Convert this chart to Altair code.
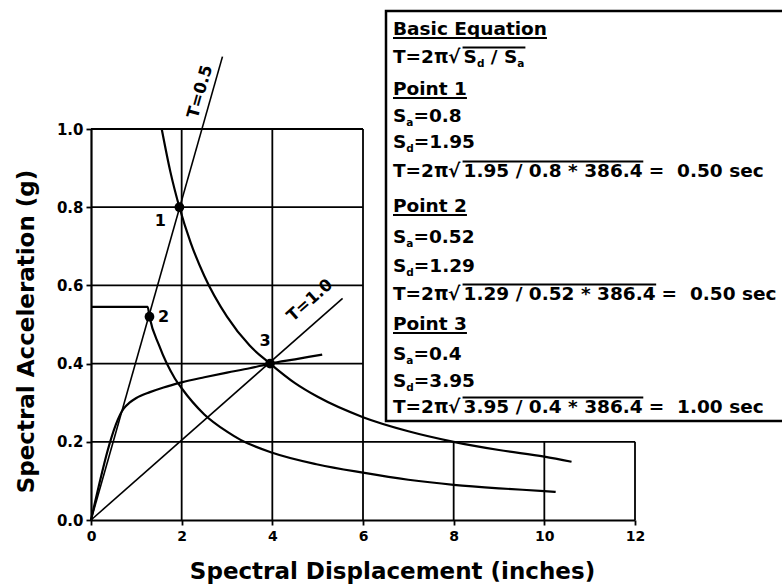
import math
import altair as alt
import pandas as pd

# ---------------------------------------------------------------- values
SD_TICKS = [0, 2, 4, 6, 8, 10, 12]
SA_TICKS = [0.0, 0.2, 0.4, 0.6, 0.8, 1.0]

# horizontal grid lines and how far right each one runs
GRID_SA = [0.2, 0.4, 0.6, 0.8, 1.0]
GRID_SA_END = [12, 6, 6, 6, 6]
# vertical grid lines and how high each one runs
GRID_SD = [2, 4, 6, 8, 10, 12]
GRID_SD_TOP = [1.0, 1.0, 1.0, 0.2, 0.2, 0.2]

# capacity (pushover) curve
CAP_SD = [0.0, 0.72, 0.85, 1.0, 1.3, 1.6, 2.0, 2.5, 3.0, 3.5, 3.95, 4.5, 5.1]
CAP_SA = [0.0, 0.285, 0.300, 0.312, 0.327, 0.339, 0.352, 0.365, 0.377, 0.388, 0.400, 0.411, 0.423]

# elastic demand spectrum
DEM_SD = [1.56, 1.75, 1.95, 2.2, 2.5, 3.0, 3.5, 3.95, 4.5, 5.0, 6.0, 7.0, 8.0, 9.0, 10.0, 10.6]
DEM_SA = [1.0, 0.891, 0.80, 0.709, 0.624, 0.52, 0.446, 0.40, 0.35, 0.315, 0.263, 0.227, 0.200, 0.179, 0.162, 0.149]

# reduced demand spectrum
RED_SD = [0.0, 1.25, 1.29, 1.5, 1.85, 2.0, 2.5, 3.0, 3.3, 4.0, 5.0, 6.0, 7.0, 8.0, 9.0, 10.0, 10.25]
RED_SA = [0.545, 0.545, 0.52, 0.447, 0.362, 0.337, 0.27, 0.226, 0.205, 0.172, 0.142, 0.121, 0.103, 0.090, 0.081, 0.074, 0.072]

# constant-period radial lines
PERIODS = [0.5, 1.0]
PERIOD_SD_END = [2.9, 5.55]
PERIOD_LABEL_SD = [2.66, 5.12]

# performance points
POINT_NAMES = ["1", "2", "3"]
POINT_SA = [0.8, 0.52, 0.4]
POINT_SD = [1.95, 1.29, 3.95]
GRAVITY = 386.4  # in/s^2

# ---------------------------------------------------------------- layout
W, H = 544, 391          # plot area in px
LEFT, TOP = 91, 129      # plot origin on the page
SD_MAX, SA_MAX = 12, 1.0
PX_SD = W / SD_MAX
PX_SA = H / SA_MAX
FONT = "DejaVu Sans"
NB = "\u00a0"            # non-breaking space, kept as-is inside SVG text


def sd_of(px):
    return (px - LEFT) / PX_SD


def sa_of(py):
    return (TOP + H - py) / PX_SA


def period_slope(t):
    # Sa/Sd ratio of a constant-period line: (2*pi/T)^2 / g
    return (2 * math.pi / t) ** 2 / GRAVITY


xs = alt.Scale(domain=[0, SD_MAX], nice=False, zero=False)
ys = alt.Scale(domain=[0, SA_MAX], nice=False, zero=False)

# ---------------------------------------------------------------- grid
hgrid = pd.DataFrame({"x": [0] * len(GRID_SA), "x2": GRID_SA_END, "y": GRID_SA})
vgrid = pd.DataFrame({"x": GRID_SD, "y": [0] * len(GRID_SD), "y2": GRID_SD_TOP})

base_axes = alt.Chart(pd.DataFrame({"x": [0], "y": [0]})).mark_point(opacity=0).encode(
    x=alt.X("x:Q", scale=xs, axis=alt.Axis(
        values=SD_TICKS, format="d", grid=False, labelFlush=False,
        domainColor="black", domainWidth=2.2, tickColor="black", tickWidth=1.8, tickSize=5,
        labelFont=FONT, labelFontWeight="bold", labelFontSize=14, labelColor="black",
        labelPadding=4,
        title="Spectral Displacement (inches)", titleFont=FONT, titleFontWeight="bold",
        titleFontSize=23, titleColor="black", titleX=301, titleY=58,
        titleAlign="center", titleBaseline="alphabetic")),
    y=alt.Y("y:Q", scale=ys, axis=alt.Axis(
        values=SA_TICKS, format=".1f", grid=False,
        domainColor="black", domainWidth=2.2, tickColor="black", tickWidth=1.8, tickSize=5,
        labelFont=FONT, labelFontWeight="bold", labelFontSize=15, labelColor="black",
        labelPadding=3,
        title="Spectral Acceleration (g)", titleFont=FONT, titleFontWeight="bold",
        titleFontSize=23, titleColor="black", titleX=-57.5, titleY=202, titleAngle=270,
        titleAlign="center", titleBaseline="alphabetic")),
)

hgrid_layer = alt.Chart(hgrid).mark_rule(color="black", strokeWidth=1.8).encode(
    x=alt.X("x:Q", scale=xs), x2="x2:Q", y=alt.Y("y:Q", scale=ys))
vgrid_layer = alt.Chart(vgrid).mark_rule(color="black", strokeWidth=1.8).encode(
    x=alt.X("x:Q", scale=xs), y=alt.Y("y:Q", scale=ys), y2="y2:Q")

# ---------------------------------------------------------------- period lines
prow = []
for t, end in zip(PERIODS, PERIOD_SD_END):
    prow.append({"T": t, "sd": 0.0, "sa": 0.0})
    prow.append({"T": t, "sd": end, "sa": period_slope(t) * end})
period_lines = alt.Chart(pd.DataFrame(prow)).mark_line(color="black", strokeWidth=1.6).encode(
    x=alt.X("sd:Q", scale=xs), y=alt.Y("sa:Q", scale=ys), detail="T:N")

period_labels = []
LABEL_GAP = [12, 20]
for t, lsd, gap in zip(PERIODS, PERIOD_LABEL_SD, LABEL_GAP):
    slope = period_slope(t)
    ang = 360 - math.degrees(math.atan(slope * PX_SA / PX_SD))
    df = pd.DataFrame({"sd": [lsd], "sa": [slope * lsd], "txt": [f"T={t:.1f}"]})
    period_labels.append(
        alt.Chart(df).mark_text(font=FONT, fontWeight="bold", fontSize=16.5, color="black",
                                align="center", baseline="middle", angle=ang, dy=-gap)
        .encode(x=alt.X("sd:Q", scale=xs), y=alt.Y("sa:Q", scale=ys), text="txt:N"))

# ---------------------------------------------------------------- curves
def curve(sd, sa):
    return alt.Chart(pd.DataFrame({"sd": sd, "sa": sa})).mark_line(
        color="black", strokeWidth=2.2, interpolate="monotone").encode(
        x=alt.X("sd:Q", scale=xs), y=alt.Y("sa:Q", scale=ys))


cap_layer = curve(CAP_SD, CAP_SA)
dem_layer = curve(DEM_SD, DEM_SA)
red_layer = curve(RED_SD, RED_SA)

# ---------------------------------------------------------------- points
pts = pd.DataFrame({"sd": POINT_SD, "sa": POINT_SA, "name": POINT_NAMES})
point_layer = alt.Chart(pts).mark_circle(color="black", size=95, opacity=1).encode(
    x=alt.X("sd:Q", scale=xs), y=alt.Y("sa:Q", scale=ys))

POINT_LABEL_OFFSETS = [(-19, 14), (14, 0), (-5, -23)]
point_labels = []
for i, (dx, dy) in enumerate(POINT_LABEL_OFFSETS):
    point_labels.append(
        alt.Chart(pts.iloc[[i]]).mark_text(font=FONT, fontWeight="bold", fontSize=16,
                                            color="black", align="center", baseline="middle",
                                            dx=dx, dy=dy)
        .encode(x=alt.X("sd:Q", scale=xs), y=alt.Y("sa:Q", scale=ys), text="name:N"))

# ---------------------------------------------------------------- equation panel
ADV = {" ": 0.348, NB: 0.348, ".": 0.380, "=": 0.838, "/": 0.365, "*": 0.5, "T": 0.682,
       "S": 0.720, "B": 0.762, "E": 0.683, "P": 0.733, "a": 0.675, "c": 0.593, "d": 0.716,
       "e": 0.678, "i": 0.343, "n": 0.712, "o": 0.687, "q": 0.716, "s": 0.595, "t": 0.478,
       "u": 0.712, "π": 0.652, "√": 0.838}


def text_width(s, size):
    return sum(ADV.get(ch, 0.696) for ch in s) * size


# token kinds: plain text, subscript, text under the radical bar, and a blank advance (px)
N, SUB, RAD, RADSUB, GAP = "n", "sub", "rad", "radsub", "gap"
SQRT = [("T=2π", N), (2.0, GAP), ("√", N)]
lines = [([("Basic Equation", N)], True),
         (SQRT + [("S", RAD), ("d", RADSUB), (6.4, GAP), ("/ ", RAD),
                  ("S", RAD), ("a", RADSUB)], False)]
for name, sa, sd in zip(POINT_NAMES, POINT_SA, POINT_SD):
    period = 2 * math.pi * math.sqrt(sd / (sa * GRAVITY))
    lines.append(([(f"Point {name}", N)], True))
    lines.append(([("S", N), ("a", SUB), (f"={sa:g}", N)], False))
    lines.append(([("S", N), ("d", SUB), (f"={sd:g}", N)], False))
    lines.append((SQRT + [(f"{sd:g} / {sa:g} * {GRAVITY:g}", RAD),
                          (6.4, GAP), (f"=  {period:.2f} sec", N)], False))

BASELINES = [35, 63, 95, 122, 148, 177, 212, 243, 272, 300, 330, 360, 387, 413]
TEXT_X0 = 393
FS, SUB_FS, SUB_DROP = 18.5, 10.5, 4

runs, marks = [], []
for (tokens, underline), base in zip(lines, BASELINES):
    x = TEXT_X0
    rad = None
    for txt, kind in tokens:
        if kind == GAP:
            x += txt
            continue
        txt = txt.replace(" ", NB)
        sub = kind in (SUB, RADSUB)
        fs = SUB_FS if sub else FS
        w = text_width(txt.rstrip(NB), fs)
        if kind in (RAD, RADSUB) and rad is None:
            rad = [x, x]
        runs.append({"sd": sd_of(x), "sa": sa_of(base + (SUB_DROP if sub else 0)),
                     "txt": txt, "fs": fs})
        if kind in (RAD, RADSUB):
            rad[1] = x + w
        x += text_width(txt, fs)
    if rad:
        marks.append({"sd": sd_of(rad[0] - 1), "sd2": sd_of(rad[1] + 1), "sa": sa_of(base - 15.5)})
    if underline:
        marks.append({"sd": sd_of(TEXT_X0), "sd2": sd_of(x), "sa": sa_of(base + 3)})

box = pd.DataFrame({"sd": [sd_of(386)], "sd2": [sd_of(800)], "sa": [sa_of(11)], "sa2": [sa_of(421)]})
box_layer = alt.Chart(box).mark_rect(fill="white", stroke="black", strokeWidth=2.5).encode(
    x=alt.X("sd:Q", scale=xs), x2="sd2:Q", y=alt.Y("sa:Q", scale=ys), y2="sa2:Q")

text_layer = alt.Chart(pd.DataFrame(runs)).mark_text(
    font=FONT, fontWeight="bold", color="black", align="left", baseline="alphabetic").encode(
    x=alt.X("sd:Q", scale=xs), y=alt.Y("sa:Q", scale=ys), text="txt:N",
    size=alt.Size("fs:Q", scale=None))

deco_layer = alt.Chart(pd.DataFrame(marks)).mark_rule(color="black", strokeWidth=1.8).encode(
    x=alt.X("sd:Q", scale=xs), x2="sd2:Q", y=alt.Y("sa:Q", scale=ys))

chart = alt.layer(
    base_axes, hgrid_layer, vgrid_layer, period_lines, *period_labels,
    dem_layer, red_layer, cap_layer, point_layer, *point_labels,
    box_layer, text_layer, deco_layer,
).properties(
    width=W, height=H,
    autosize=alt.AutoSizeParams(type="none"),
    padding={"left": LEFT, "top": TOP, "right": 782 - LEFT - W, "bottom": 587 - TOP - H},
    background="white",
).configure_view(stroke=None)

chart.save("out.html", embed_options={"renderer": "svg", "actions": False})
